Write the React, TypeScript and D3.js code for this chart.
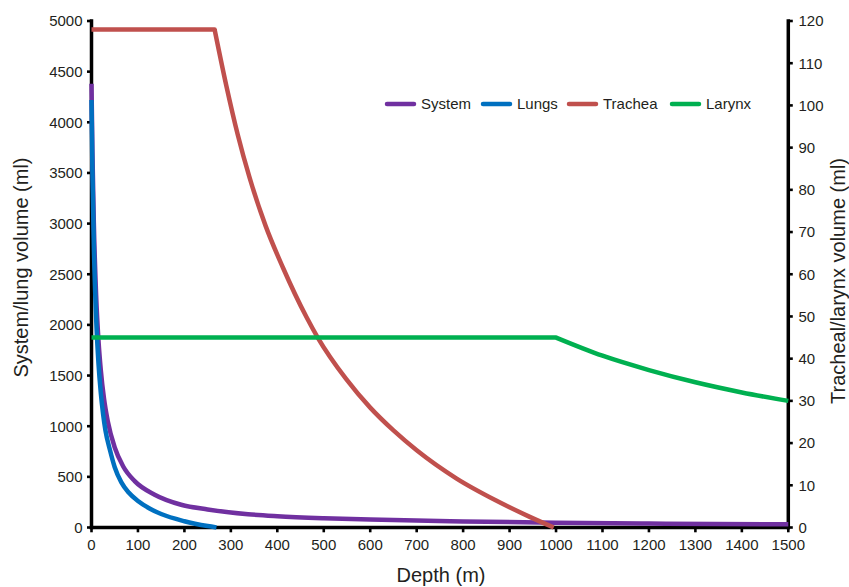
import React from "react";
import * as d3 from "d3";

// ---- Data ----
const systemDepth = [0, 2, 5, 10, 15, 20, 27, 35, 50, 68, 93, 136, 193, 250, 337, 400, 500, 600, 800, 1000, 1200, 1500];
const systemVolume = [4380, 3710, 3010, 2290, 1850, 1555, 1270, 1050, 790, 605, 458, 324, 225, 178, 131, 112, 92, 78, 60, 47, 39, 31];

const lungDepth = [0, 2, 5, 10, 15, 20, 25, 30, 40, 50, 64, 80, 100, 125, 150, 200, 250, 269];
const lungVolume = [4220, 3510, 2790, 2063, 1623, 1329, 1118, 959, 760, 595, 448, 345, 262, 188, 133, 62, 14, 0];

const tracheaDepth = [0, 265, 290, 315, 340, 375, 412, 463, 487, 548, 600, 650, 700, 786, 871, 940, 995];
const tracheaVolume = [118, 118, 104.8, 93, 83, 71.4, 61.6, 49.8, 45, 35.2, 28.4, 23, 18.3, 11.6, 6.4, 2.7, 0];

const larynxDepth = [0, 1000, 1100, 1200, 1300, 1400, 1500];
const larynxVolume = [45, 45, 40.7, 37.3, 34.4, 32, 30];

const xTicks = d3.range(0, 1501, 100);
const yLeftTicks = d3.range(0, 5001, 500);
const yRightTicks = d3.range(0, 121, 10);

const seriesNames = ["System", "Lungs", "Trachea", "Larynx"];
const seriesColors = ["#7030A0", "#0070C0", "#C0504D", "#00B050"];

// ---- Layout ----
const W = 849;
const H = 587;
const X0 = 91.5;
const X1 = 788.3;
const Y0 = 527.5;
const Y1 = 21;
const FONT = "'Liberation Sans', Arial, Helvetica, sans-serif";
const TEXT = "#231f20";

const x = d3.scaleLinear().domain([0, 1500]).range([X0, X1]);
const yL = d3.scaleLinear().domain([0, 5000]).range([Y0, Y1]);
const yR = d3.scaleLinear().domain([0, 120]).range([Y0, Y1]);

type Pt = [number, number];

function zip(ds: number[], vs: number[]): Pt[] {
  return ds.map((d, i) => [d, vs[i]] as Pt);
}

// plateau drawn straight, the rest as a smooth monotone curve
function seriesPath(pts: Pt[], y: d3.ScaleLinear<number, number>): string {
  let k = 0;
  while (k + 1 < pts.length && pts[k + 1][1] === pts[0][1]) k++;
  const curve = d3
    .line<Pt>()
    .x((p) => x(p[0]))
    .y((p) => y(p[1]))
    .curve(d3.curveMonotoneX);
  if (k === 0) return curve(pts) || "";
  const flat = `M${x(pts[0][0])},${y(pts[0][1])}L${x(pts[k][0])},${y(pts[k][1])}`;
  const rest = curve(pts.slice(k)) || "";
  return flat + rest.replace(/^M/, "L");
}

const legendX = [387, 483, 569, 672];

export default function App() {
  const series = [
    { pts: zip(systemDepth, systemVolume), y: yL },
    { pts: zip(lungDepth, lungVolume), y: yL },
    { pts: zip(tracheaDepth, tracheaVolume), y: yR },
    { pts: zip(larynxDepth, larynxVolume), y: yR },
  ];
  return (
    <svg
      width={W}
      height={H}
      viewBox={`0 0 ${W} ${H}`}
      style={{ position: "absolute", left: 0, top: 0, display: "block", background: "#fff" }}
      fontFamily={FONT}
    >
      <rect x={0} y={0} width={W} height={H} fill="#fff" />
      {/* axes */}
      <g stroke="#000" strokeWidth={3.5}>
        <line x1={X0} x2={X0} y1={19.3} y2={Y0 + 1.75} />
        <line x1={X1} x2={X1} y1={19.3} y2={Y0 + 1.75} />
        <line x1={X0 - 1.75} x2={X1 + 1.75} y1={Y0} y2={Y0} />
      </g>
      <g stroke="#000" strokeWidth={2.6}>
        {yLeftTicks.map((t) => (
          <line key={"lt" + t} x1={X0} x2={X0 - 4.5} y1={yL(t)} y2={yL(t)} />
        ))}
        {yRightTicks.map((t) => (
          <line key={"rt" + t} x1={X1} x2={X1 + 4.5} y1={yR(t)} y2={yR(t)} />
        ))}
        {xTicks.map((t) => (
          <line key={"xt" + t} x1={x(t)} x2={x(t)} y1={Y0} y2={Y0 + 4.8} />
        ))}
      </g>
      <g fill={TEXT} fontSize={15}>
        {yLeftTicks.map((t) => (
          <text key={"ll" + t} x={82.5} y={yL(t)} dy="0.36em" textAnchor="end">
            {t}
          </text>
        ))}
        {yRightTicks.map((t) => (
          <text key={"rl" + t} x={798.5} y={yR(t)} dy="0.36em" textAnchor="start">
            {t}
          </text>
        ))}
        {xTicks.map((t) => (
          <text key={"xl" + t} x={x(t)} y={550} textAnchor="middle">
            {t}
          </text>
        ))}
      </g>
      {/* axis titles */}
      <g fill={TEXT} fontSize={20}>
        <text transform="translate(27.5,267.5) rotate(-90)" textAnchor="middle">
          System/lung volume (ml)
        </text>
        <text transform="translate(844.5,281) rotate(-90)" textAnchor="middle">
          Tracheal/larynx volume (ml)
        </text>
        <text x={441} y={582} textAnchor="middle">
          Depth (m)
        </text>
      </g>
      {/* series */}
      {series.map((s, i) => (
        <path
          key={seriesNames[i]}
          d={seriesPath(s.pts, s.y)}
          fill="none"
          stroke={seriesColors[i]}
          strokeWidth={4.5}
          strokeLinejoin="round"
          strokeLinecap="butt"
        />
      ))}
      {/* legend */}
      <g fontSize={15} fill={TEXT}>
        {seriesNames.map((n, i) => (
          <g key={"lg" + n}>
            <line
              x1={legendX[i]}
              x2={legendX[i] + 27}
              y1={104}
              y2={104}
              stroke={seriesColors[i]}
              strokeWidth={4.5}
              strokeLinecap="round"
            />
            <text x={legendX[i] + 34} y={109.4}>
              {n}
            </text>
          </g>
        ))}
      </g>
    </svg>
  );
}
